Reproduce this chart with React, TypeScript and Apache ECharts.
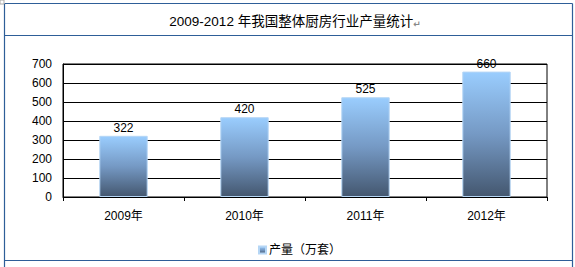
import React, { useEffect, useRef } from "react";
import * as echarts from "echarts";

const titleText = "2009-2012 年我国整体厨房行业产量统计";
const categories = ["2009年", "2010年", "2011年", "2012年"];
const seriesName = "产量（万套）";
const values = [322, 420, 525, 660];
const yMin = 0;
const yMax = 700;
const yInterval = 100;

const FONT = "'Liberation Sans', 'Noto Sans CJK SC', sans-serif";
const BORDER = "#2E5E98";

export default function App() {
  const ref = useRef<HTMLDivElement>(null);
  useEffect(() => {
    if (!ref.current) return;
    const chart = echarts.init(ref.current, null, { renderer: "svg" });
    const grad = new echarts.graphic.LinearGradient(0, 0, 0, 1, [
      { offset: 0, color: "#9ACDFE" },
      { offset: 0.5, color: "#7599C4" },
      { offset: 1, color: "#44576F" },
    ]);
    chart.setOption({
      animation: false,
      backgroundColor: "#ffffff",
      title: {
        text: "{a|" + titleText + "}{b|↵}",
        left: 290,
        textAlign: "center",
        top: 10,
        textStyle: {
          rich: {
            a: { fontFamily: FONT, fontSize: 13.5, color: "#000", fontWeight: "normal" },
            b: { fontFamily: "'DejaVu Sans'", fontSize: 9, color: "#888", verticalAlign: "bottom" },
          },
        },
      },
      grid: {
        left: 63,
        right: 28,
        top: 64,
        bottom: 70,
        show: true,
        borderColor: "#000",
        borderWidth: 1,
      },
      legend: {
        data: [seriesName],
        left: 253,
        top: 239,
        itemWidth: 7,
        itemHeight: 7,
        icon: "rect",
        textStyle: { fontFamily: FONT, fontSize: 12, color: "#000", padding: [0, 0, 0, -2] },
      },
      xAxis: {
        type: "category",
        data: categories,
        axisLine: { show: true, lineStyle: { color: "#000", width: 1 } },
        axisTick: { show: true, length: 4, lineStyle: { color: "#000" } },
        axisLabel: { color: "#000", fontFamily: FONT, fontSize: 12, margin: 13 },
      },
      yAxis: {
        type: "value",
        min: yMin,
        max: yMax,
        interval: yInterval,
        axisLine: { show: true, lineStyle: { color: "#000", width: 1 } },
        axisTick: { show: false },
        axisLabel: { color: "#000", fontFamily: FONT, fontSize: 12, margin: 11 },
        splitLine: { show: true, lineStyle: { color: "#000", width: 1 } },
      },
      series: [
        {
          name: seriesName,
          type: "bar",
          data: values,
          barWidth: "40%",
          itemStyle: { color: grad, borderColor: "#B5D6F5", borderWidth: 1 },
          label: {
            show: true,
            position: "top",
            distance: 2,
            color: "#000",
            fontFamily: FONT,
            fontSize: 12,
          },
        },
      ],
      graphic: [
        { type: "line", shape: { x1: 4.5, y1: 3.5, x2: 572.5, y2: 3.5 }, style: { stroke: BORDER, lineWidth: 1.2 } },
        { type: "line", shape: { x1: 4.5, y1: 35.5, x2: 572.5, y2: 35.5 }, style: { stroke: BORDER, lineWidth: 1.2 } },
        { type: "line", shape: { x1: 4.5, y1: 260.5, x2: 572.5, y2: 260.5 }, style: { stroke: BORDER, lineWidth: 1.2 } },
        { type: "line", shape: { x1: 4.5, y1: 3.5, x2: 4.5, y2: 267 }, style: { stroke: BORDER, lineWidth: 1.2 } },
        { type: "line", shape: { x1: 572.5, y1: 3.5, x2: 572.5, y2: 267 }, style: { stroke: BORDER, lineWidth: 1.2 } },
        { type: "rect", shape: { x: 0, y: 0, width: 4, height: 4 }, style: { fill: "none", stroke: "#aaa", lineWidth: 1 } },
      ],
    });
    return () => chart.dispose();
  }, []);
  return (
    <div
      ref={ref}
      style={{ position: "fixed", left: 0, top: 0, width: 575, height: 267 }}
    />
  );
}
